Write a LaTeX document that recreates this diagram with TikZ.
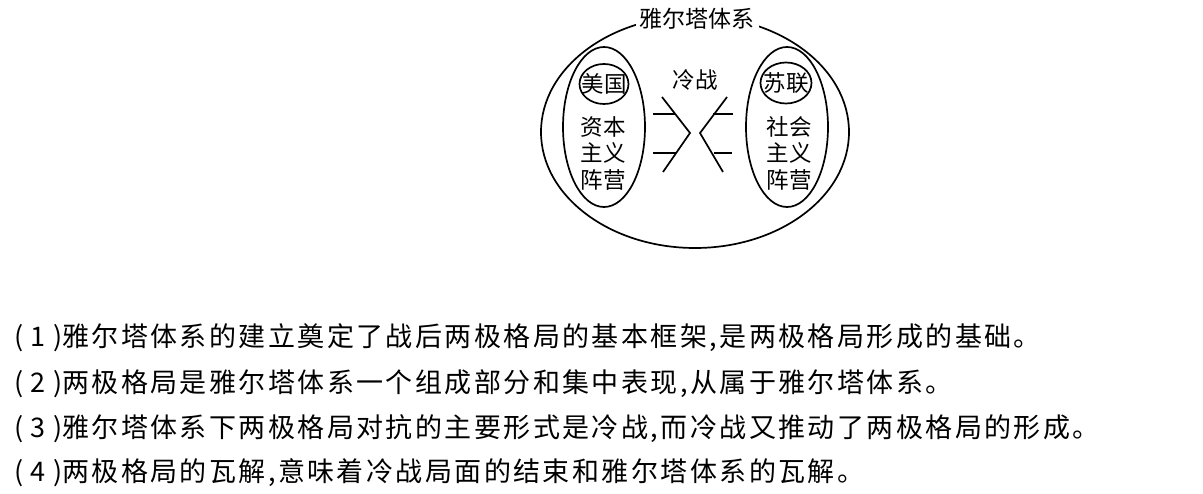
\documentclass[tikz,border=0pt]{standalone}
\usepackage{fontspec}
\setmainfont{Noto Sans CJK SC}
\newfontfamily\cjkspaced[LetterSpace=9]{Noto Sans CJK SC}
\usetikzlibrary{shapes.geometric}
\tikzset{
  ring/.style={draw, ellipse, line width=1.7pt, inner sep=0pt},
  lbl/.style={inner sep=0pt, font=\fontsize{22.5}{26.5}\selectfont, align=center},
  stmt/.style={anchor=base west, inner sep=0pt, font=\cjkspaced\fontsize{27}{30}\selectfont},
  stroke/.style={line width=1.7pt}
}
\newcommand{\numlab}[1]{\hbox to 48pt{(\hfil #1\hfil)}}
\begin{document}
\begin{tikzpicture}[x=1pt,y=-1pt]
\useasboundingbox (0,0) rectangle (1203,494);
% outer system
\node[ring, minimum width=308pt, minimum height=232pt] (outer) at (695,132) {};
\node[lbl, fill=white, inner xsep=4pt, inner ysep=1pt, font=\fontsize{23}{26}\selectfont] (title) at (697,19) {雅尔塔体系};
% left camp
\node[ring, minimum width=82pt, minimum height=160pt] (lcamp) at (604,127) {};
\node[ring, minimum width=49pt, minimum height=40pt] (usa) at (604,84) {};
\node[lbl] (usat) at (604,84) {美国};
\node[lbl] (lcampt) at (603,153) {资本\\主义\\阵营};
% right camp
\node[ring, minimum width=82pt, minimum height=160pt] (rcamp) at (787,127) {};
\node[ring, minimum width=51pt, minimum height=41pt] (ussr) at (786,83) {};
\node[lbl] (ussrt) at (786,83) {苏联};
\node[lbl] (rcampt) at (789,153) {社会\\主义\\阵营};
% cold war
\node[lbl] (cw) at (695,80) {冷战};
\draw[stroke] (662,97) -- (690,133) -- (663,172);
\draw[stroke] (653,114) -- (675,114);
\draw[stroke] (653,153) -- (676,153);
\draw[stroke] (727,97) -- (700,133) -- (723,172);
\draw[stroke] (713,114) -- (733,114);
\draw[stroke] (714,153) -- (732,153);
% statements
\node[stmt] (s1) at (14,347) {\numlab{1}雅尔塔体系的建立奠定了战后两极格局的基本框架,是两极格局形成的基础。};
\node[stmt] (s2) at (14,392) {\numlab{2}两极格局是雅尔塔体系一个组成部分和集中表现,从属于雅尔塔体系。};
\node[stmt] (s3) at (14,437) {\numlab{3}雅尔塔体系下两极格局对抗的主要形式是冷战,而冷战又推动了两极格局的形成。};
\node[stmt] (s4) at (14,481) {\numlab{4}两极格局的瓦解,意味着冷战局面的结束和雅尔塔体系的瓦解。};
\end{tikzpicture}
\end{document}
